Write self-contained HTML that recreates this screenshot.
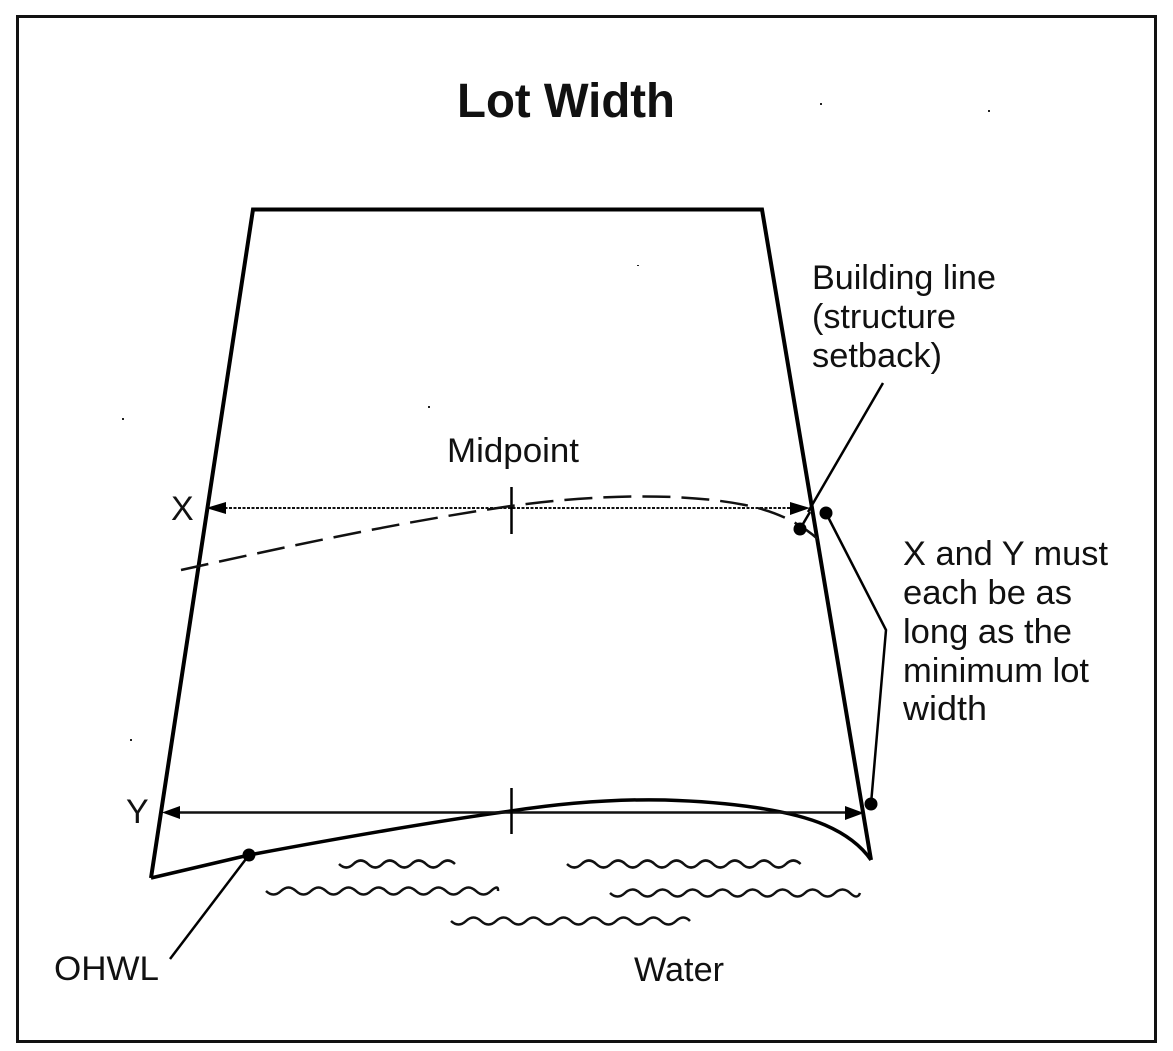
<!DOCTYPE html>
<html lang="en">
<head>
<meta charset="utf-8">
<title>Lot Width</title>
<style>
html,body{margin:0;padding:0;background:#fff}
svg{display:block}
text{font-family:"Liberation Sans",sans-serif;fill:#111}
.l{font-size:34px}
</style>
</head>
<body>
<svg width="1173" height="1051" viewBox="0 0 1173 1051" xmlns="http://www.w3.org/2000/svg">
<rect x="0" y="0" width="1173" height="1051" fill="#fff"/>
<rect x="17.5" y="16.5" width="1138" height="1025" fill="none" stroke="#111" stroke-width="3"/>

<text x="457" y="117" font-size="48" font-weight="bold" textLength="218" lengthAdjust="spacingAndGlyphs">Lot Width</text>

<!-- Lot outline -->
<path d="M151 878 L253 209.5 L762 209.5 L871 860" fill="none" stroke="#000" stroke-width="4"/>
<!-- Shoreline -->
<path d="M151 878 L249 855 C340 838 430 822 511 811 C570 802 620 799 665 800 C730 802 790 810 825 825 C848 835 862 847 871 860" fill="none" stroke="#000" stroke-width="3.5"/>

<!-- Arrows -->
<line x1="220" y1="508" x2="795" y2="508" stroke="#111" stroke-width="2" stroke-dasharray="3 1.5"/>
<polygon points="206,508 226,502 226,514" fill="#000"/>
<polygon points="810,508 790,502 790,515" fill="#000"/>
<line x1="175" y1="812.5" x2="850" y2="812.5" stroke="#111" stroke-width="2.5"/>
<polygon points="162,812.5 180,806 180,819" fill="#000"/>
<polygon points="864,813 845,806 845,820" fill="#000"/>

<!-- Ticks -->
<line x1="511.5" y1="487" x2="511.5" y2="534" stroke="#000" stroke-width="2.5"/>
<line x1="511.5" y1="788" x2="511.5" y2="834" stroke="#000" stroke-width="2.5"/>

<!-- Dashed curve -->
<path d="M181 570 C290 546 400 522 511 506 C590 495 680 492 745 505 C780 512 805 526 823 544" fill="none" stroke="#111" stroke-width="2.5" stroke-dasharray="28 11"/>

<!-- Leaders -->
<line x1="883" y1="383" x2="808" y2="512" stroke="#000" stroke-width="2.5"/>
<line x1="800" y1="529" x2="810" y2="512" stroke="#000" stroke-width="2.5"/>
<path d="M826 513 L886 630 L871 804" fill="none" stroke="#000" stroke-width="2.5"/>
<line x1="249" y1="855" x2="170" y2="959" stroke="#000" stroke-width="2.5"/>

<!-- Dots -->
<circle cx="800" cy="529" r="6.5" fill="#000"/>
<circle cx="826" cy="513" r="6.5" fill="#000"/>
<circle cx="871" cy="804" r="6.5" fill="#000"/>
<circle cx="249" cy="855" r="6.5" fill="#000"/>

<!-- Water -->
<g fill="none" stroke="#111" stroke-width="2.5">
<path d="M339 864 q7.3 7 14.5 0 t14.5 0 t14.5 0 t14.5 0 t14.5 0 t14.5 0 t14.5 0 t14.5 0"/>
<path d="M266 891 q7.5 7 15 0 t15 0 t15 0 t15 0 t15 0 t15 0 t15 0 t15 0 t15 0 t15 0 t15 0 t15 0 t15 0 t15 0 t15 0 t7 0"/>
<path d="M451 921 q7.5 7 15 0 t15 0 t15 0 t15 0 t15 0 t15 0 t15 0 t15 0 t15 0 t15 0 t15 0 t15 0 t15 0 t15 0 t15 0 t14 0"/>
<path d="M567 864 q7.3 7 14.6 0 t14.6 0 t14.6 0 t14.6 0 t14.6 0 t14.6 0 t14.6 0 t14.6 0 t14.6 0 t14.6 0 t14.6 0 t14.6 0 t14.6 0 t14.6 0 t14.6 0 t14.6 0"/>
<path d="M610 893 q7.5 7 15 0 t15 0 t15 0 t15 0 t15 0 t15 0 t15 0 t15 0 t15 0 t15 0 t15 0 t15 0 t15 0 t15 0 t15 0 t15 0 t10 0"/>
</g>

<!-- Labels -->
<text class="l" x="812" y="289" textLength="184" lengthAdjust="spacingAndGlyphs">Building line</text>
<text class="l" x="812" y="328" textLength="144" lengthAdjust="spacingAndGlyphs">(structure</text>
<text class="l" x="812" y="367" textLength="130" lengthAdjust="spacingAndGlyphs">setback)</text>
<text class="l" x="447" y="462" textLength="132" lengthAdjust="spacingAndGlyphs">Midpoint</text>
<text class="l" x="171" y="520">X</text>
<text class="l" x="126" y="823">Y</text>
<text class="l" x="903" y="565" textLength="205" lengthAdjust="spacingAndGlyphs">X and Y must</text>
<text class="l" x="903" y="604" textLength="169" lengthAdjust="spacingAndGlyphs">each be as</text>
<text class="l" x="903" y="643" textLength="169" lengthAdjust="spacingAndGlyphs">long as the</text>
<text class="l" x="903" y="682" textLength="186" lengthAdjust="spacingAndGlyphs">minimum lot</text>
<text class="l" x="903" y="720" textLength="84" lengthAdjust="spacingAndGlyphs">width</text>
<text class="l" x="54" y="980" textLength="105" lengthAdjust="spacingAndGlyphs">OHWL</text>
<text class="l" x="634" y="981" textLength="90" lengthAdjust="spacingAndGlyphs">Water</text>

<!-- Specks -->
<g fill="#222">
<rect x="820" y="103" width="2" height="2"/>
<rect x="988" y="110" width="2" height="2"/>
<rect x="637" y="265" width="2" height="1"/>
<rect x="428" y="406" width="2" height="2"/>
<rect x="122" y="418" width="2" height="2"/>
<rect x="130" y="739" width="2" height="2"/>
</g>
</svg>
</body>
</html>
